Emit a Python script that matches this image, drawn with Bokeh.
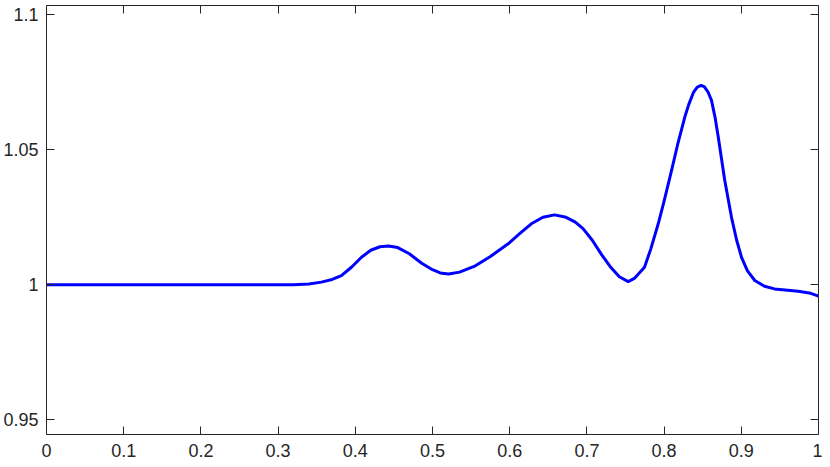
from bokeh.plotting import figure
from bokeh.models import LinearAxis, FixedTicker, Range1d
from bokeh.embed import file_html
from bokeh.resources import INLINE

# Data
x_vals = [0.0, 0.1, 0.2, 0.3, 0.32, 0.34, 0.356, 0.37, 0.382, 0.395, 0.408, 0.42,
          0.432, 0.443, 0.455, 0.47, 0.486, 0.50, 0.51, 0.521, 0.535, 0.554, 0.575,
          0.598, 0.614, 0.628, 0.643, 0.658, 0.673, 0.685, 0.695, 0.707, 0.719,
          0.73, 0.742, 0.7535, 0.762, 0.7746, 0.783, 0.7924, 0.80, 0.8096, 0.818,
          0.8268, 0.832, 0.838, 0.843, 0.848, 0.852, 0.857, 0.8614, 0.866, 0.870,
          0.8786, 0.8873, 0.894, 0.9003, 0.908, 0.9175, 0.93, 0.943, 0.96, 0.9737,
          0.99, 1.0]
y_vals = [1.0, 1.0, 1.0, 1.0, 1.0, 1.0003, 1.001, 1.0020, 1.0034, 1.0065, 1.0102, 1.0128,
          1.0141, 1.0144, 1.0138, 1.0115, 1.0080, 1.0056, 1.0044, 1.0040, 1.0047, 1.0068, 1.0105,
          1.0152, 1.0192, 1.0226, 1.0250, 1.0259, 1.0250, 1.0232, 1.0208, 1.0165, 1.0112,
          1.0068, 1.0030, 1.0012, 1.0025, 1.0065, 1.0135, 1.0226, 1.0310, 1.0423, 1.0525,
          1.0621, 1.0668, 1.0712, 1.0732, 1.0738, 1.0734, 1.0713, 1.0683, 1.0620, 1.0550,
          1.0386, 1.0250, 1.0165, 1.0102, 1.0052, 1.0016, 0.9995, 0.9985, 0.9980, 0.9976,
          0.99685, 0.9958]

x_ticks = [0, 0.1, 0.2, 0.3, 0.4, 0.5, 0.6, 0.7, 0.8, 0.9, 1]
x_labels = ["0", "0.1", "0.2", "0.3", "0.4", "0.5", "0.6", "0.7", "0.8", "0.9", "1"]
y_ticks = [0.95, 1.0, 1.05, 1.1]
y_labels = ["0.95", "1", "1.05", "1.1"]

AX = "#262626"
FONT = "Liberation Sans"

p = figure(frame_width=772, frame_height=429, output_backend="svg", toolbar_location=None,
           x_range=Range1d(0, 1), y_range=Range1d(0.9446, 1.1034),
           min_border_left=45, min_border_right=4, min_border_top=5, min_border_bottom=33,
           x_axis_location=None, y_axis_location=None)
p.grid.visible = False
p.outline_line_color = None
p.background_fill_color = "white"
p.border_fill_color = "white"

def make_axis(ticks, labels, show_labels):
    ax = LinearAxis(ticker=FixedTicker(ticks=ticks))
    ax.minor_tick_line_color = None
    ax.major_tick_in = 8
    ax.major_tick_out = 0
    ax.axis_line_color = AX
    ax.major_tick_line_color = AX
    ax.axis_line_width = 1
    ax.major_label_text_font = FONT
    ax.major_label_text_color = AX
    if show_labels:
        ax.major_label_overrides = {t: l for t, l in zip(ticks, labels)}
        ax.major_label_text_font_size = "18px"
    else:
        ax.major_label_overrides = {t: "" for t in ticks}
        ax.major_label_text_font_size = "1px"
        ax.major_label_standoff = 0
    return ax

bottom = make_axis(x_ticks, x_labels, True)
bottom.major_label_standoff = 9
left = make_axis(y_ticks, y_labels, True)
left.major_label_standoff = 8
top = make_axis(x_ticks, x_labels, False)
right = make_axis(y_ticks, y_labels, False)

p.add_layout(bottom, "below")
p.add_layout(left, "left")
p.add_layout(top, "above")
p.add_layout(right, "right")

p.line(x_vals, y_vals, line_color="#0000FF", line_width=3, line_join="round")

open("out.html", "w").write(file_html(p, INLINE))
